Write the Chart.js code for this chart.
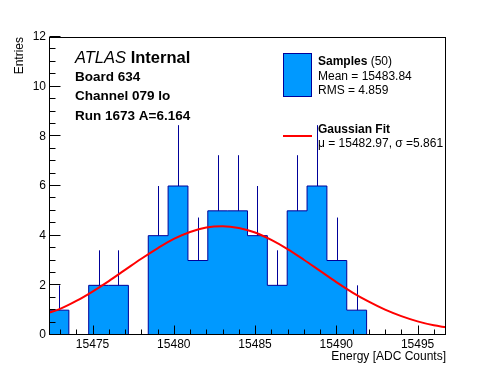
<!DOCTYPE html>
<html>
<head>
<meta charset="utf-8">
<script src="https://cdn.jsdelivr.net/npm/chart.js@4.4.1/dist/chart.umd.min.js"></script>
<style>
  html, body { margin: 0; padding: 0; background: #fff; }
  #c { display: block; }
</style>
</head>
<body>
<canvas id="c" width="496" height="372"></canvas>
<script>
var FONT = '"Liberation Sans", Arial, Helvetica, sans-serif';

// histogram binning and contents
var xMin = 15472.32;
var xMax = 15496.75;
var binWidth = 1.2215;
var counts = [1, 0, 2, 2, 0, 4, 6, 3, 5, 5, 4, 2, 5, 6, 3, 1, 0, 0, 0, 0];
var errors = [1, 0, 1.41, 1.41, 0, 2, 2.45, 1.73, 2.24, 2.24, 2, 1.41, 2.24, 2.45, 1.73, 1, 0, 0, 0, 0];

// fitted curve
var fitX = [15472.32, 15473, 15474, 15475, 15476, 15477, 15478, 15479, 15480, 15481, 15482, 15483,
            15484, 15485, 15486, 15487, 15488, 15489, 15490, 15491, 15492, 15493, 15494, 15495,
            15496, 15496.75];
var fitY = [0.90, 1.05, 1.37, 1.75, 2.17, 2.62, 3.07, 3.49, 3.87, 4.15, 4.33, 4.38,
            4.31, 4.13, 3.83, 3.46, 3.03, 2.58, 2.13, 1.71, 1.34, 1.02, 0.76, 0.55,
            0.39, 0.31];

var labelLines = ["Board 634", "Channel 079 lo", "Run 1673 A=6.164"];
var statLines = ["Mean = 15483.84", "RMS = 4.859"];
var fitLabel = "\u03bc = 15482.97, \u03c3 =5.861";

var FILL = "#0099ff";
var EDGE = "#000099";

var histPoints = [];
for (var i = 0; i < counts.length; i++) {
    histPoints.push({ x: xMin + i * binWidth, y: counts[i] });
}
histPoints.push({ x: xMin + counts.length * binWidth, y: counts[counts.length - 1] });

var fitPoints = fitX.map(function (x, k) { return { x: x, y: fitY[k] }; });

var rootStyle = {
    id: "rootStyle",
    afterDatasetDraw: function (chart, args) {
        if (args.index !== 1) return;
        var ctx = chart.ctx, xs = chart.scales.x, ys = chart.scales.y;
        ctx.save();
        ctx.strokeStyle = EDGE;
        ctx.lineWidth = 1;
        ctx.beginPath();
        for (var i = 0; i < counts.length; i++) {
            if (!counts[i]) continue;
            var px = Math.round(xs.getPixelForValue(xMin + (i + 0.5) * binWidth)) + 0.5;
            ctx.moveTo(px, ys.getPixelForValue(counts[i]));
            ctx.lineTo(px, ys.getPixelForValue(counts[i] + errors[i]));
        }
        ctx.stroke();
        ctx.restore();
    },
    afterDraw: function (chart) {
        var ctx = chart.ctx, a = chart.chartArea;
        var xs = chart.scales.x, ys = chart.scales.y;
        var L = Math.round(a.left) + 0.5, R = Math.round(a.right) - 0.5;
        var T = Math.round(a.top) + 0.5, B = Math.round(a.bottom) - 0.5;
        ctx.save();
        ctx.strokeStyle = "#000";
        ctx.lineWidth = 1;
        ctx.strokeRect(L, T, R - L, B - T);

        // tick marks point inward, ROOT style
        ctx.beginPath();
        var v, p;
        for (v = 0; v <= 12.001; v += 0.5) {
            p = Math.round(ys.getPixelForValue(v)) - 0.5;
            ctx.moveTo(L, p);
            ctx.lineTo(L + (Math.abs(v % 2) < 0.01 ? 11 : 6), p);
        }
        for (v = Math.ceil(xMin); v <= xMax; v += 1) {
            p = Math.round(xs.getPixelForValue(v)) + 0.5;
            ctx.moveTo(p, B);
            ctx.lineTo(p, B - (v % 5 === 0 ? 9 : 5));
        }
        ctx.stroke();

        ctx.fillStyle = "#000";
        ctx.textBaseline = "alphabetic";
        ctx.textAlign = "left";

        // ATLAS label
        ctx.font = "italic 16.5px " + FONT;
        ctx.fillText("ATLAS", 75, 63);
        var w = ctx.measureText("ATLAS ").width;
        ctx.font = "bold 16.5px " + FONT;
        ctx.fillText("Internal", 75 + w, 63);

        ctx.font = "bold 13.5px " + FONT;
        labelLines.forEach(function (t, k) {
            ctx.fillText(t, 75, 80.5 + k * 19.5);
        });

        // legend
        ctx.fillStyle = FILL;
        ctx.fillRect(283.5, 53.5, 28, 43);
        ctx.strokeStyle = EDGE;
        ctx.strokeRect(283.5, 53.5, 28, 43);

        ctx.fillStyle = "#000";
        ctx.font = "bold 12px " + FONT;
        ctx.fillText("Samples", 318, 65);
        var sw = ctx.measureText("Samples ").width;
        ctx.font = "12px " + FONT;
        ctx.fillText("(50)", 318 + sw, 65);
        statLines.forEach(function (t, k) {
            ctx.fillText(t, 318, 79.5 + k * 14);
        });

        ctx.strokeStyle = "#ff0000";
        ctx.lineWidth = 2;
        ctx.beginPath();
        ctx.moveTo(283, 136);
        ctx.lineTo(312, 136);
        ctx.stroke();

        ctx.font = "bold 12px " + FONT;
        ctx.fillText("Gaussian Fit", 318, 133);
        ctx.font = "12px " + FONT;
        ctx.fillText(fitLabel, 318, 147);
        ctx.restore();
    }
};

new Chart(document.getElementById("c"), {
    type: "line",
    data: {
        datasets: [
            {
                label: "Gaussian Fit",
                data: fitPoints,
                borderColor: "#ff0000",
                borderWidth: 2,
                pointRadius: 0,
                fill: false,
                cubicInterpolationMode: "monotone"
            },
            {
                label: "Samples",
                data: histPoints,
                stepped: true,
                borderColor: EDGE,
                borderWidth: 1,
                backgroundColor: FILL,
                fill: "origin",
                pointRadius: 0
            }
        ]
    },
    options: {
        responsive: false,
        animation: false,
        devicePixelRatio: 1,
        layout: { padding: { top: 37, right: 50, left: 0, bottom: 0 } },
        plugins: { legend: { display: false }, tooltip: { enabled: false } },
        scales: {
            x: {
                type: "linear",
                min: xMin,
                max: xMax,
                grid: { display: false, drawTicks: false },
                border: { display: false },
                ticks: {
                    stepSize: 5,
                    includeBounds: false,
                    autoSkip: false,
                    maxRotation: 0,
                    padding: 2,
                    color: "#000",
                    font: { family: FONT, size: 12 },
                    callback: function (v) { return String(v); }
                },
                title: {
                    display: true,
                    text: "Energy [ADC Counts]",
                    align: "end",
                    color: "#000",
                    font: { family: FONT, size: 12 },
                    padding: { top: 0, bottom: 8.5 }
                },
                afterFit: function (s) { s.height = 37; }
            },
            y: {
                min: 0,
                max: 12,
                grid: { display: false, drawTicks: false },
                border: { display: false },
                ticks: {
                    stepSize: 2,
                    padding: 3,
                    color: "#000",
                    font: { family: FONT, size: 12 }
                },
                title: {
                    display: true,
                    text: "Entries",
                    align: "end",
                    color: "#000",
                    font: { family: FONT, size: 12 },
                    padding: { top: 12, bottom: 0 }
                },
                afterFit: function (s) { s.width = 49; }
            }
        }
    },
    plugins: [rootStyle]
});
</script>
</body>
</html>
